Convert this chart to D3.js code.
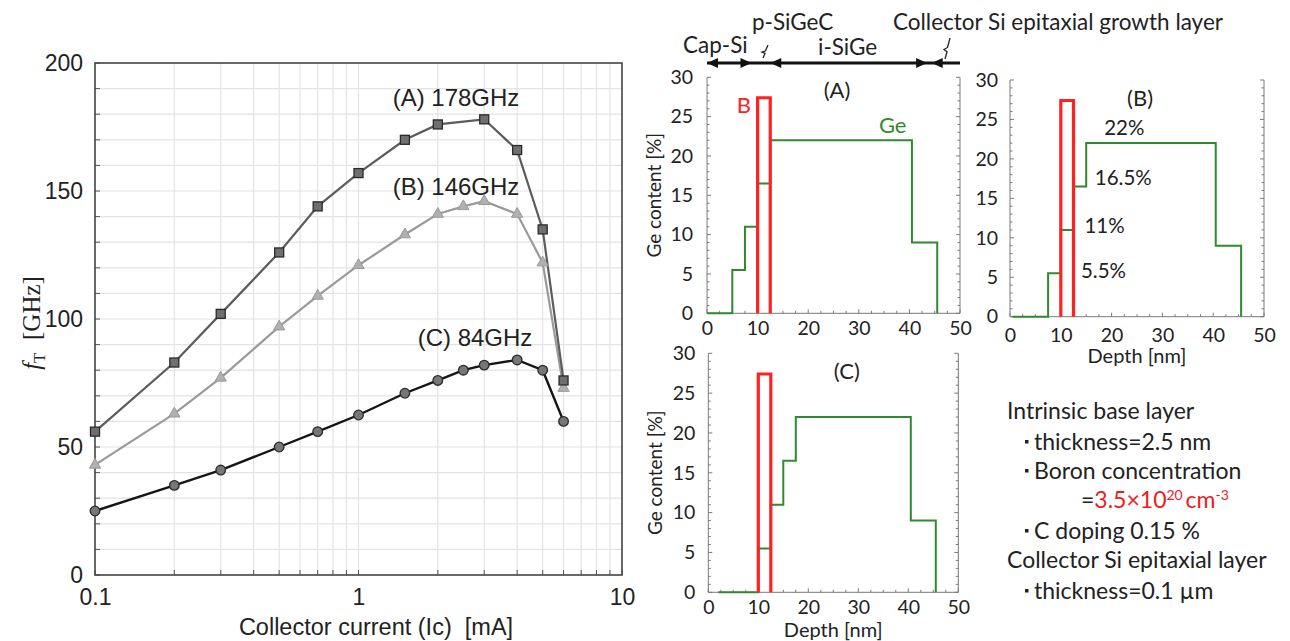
<!DOCTYPE html>
<html>
<head>
<meta charset="utf-8">
<script src="https://cdn.jsdelivr.net/npm/d3@7"></script>
<style>
  body { margin: 0; background: #fff; }
  svg { display: block; }
</style>
</head>
<body>
<svg id="fig" width="1290" height="641"></svg>
<script>
// ---------- fT versus collector current ----------
const currentA = [0.1, 0.2, 0.3, 0.5, 0.7, 1, 1.5, 2, 3, 4, 5, 6];
const ftA      = [56, 83, 102, 126, 144, 157, 170, 176, 178, 166, 135, 76];
const currentB = [0.1, 0.2, 0.3, 0.5, 0.7, 1, 1.5, 2, 2.5, 3, 4, 5, 6];
const ftB      = [43, 63, 77, 97, 109, 121, 133, 141, 144, 146, 141, 122, 73];
const currentC = [0.1, 0.2, 0.3, 0.5, 0.7, 1, 1.5, 2, 2.5, 3, 4, 5, 6];
const ftC      = [25, 35, 41, 50, 56, 62.5, 71, 76, 80, 82, 84, 80, 60];
const seriesLabels = ["(A) 178GHz", "(B) 146GHz", "(C) 84GHz"];
const ftTicks = [0, 50, 100, 150, 200];
const currentTicks = [0.1, 1, 10];

// ---------- Ge / B depth profiles ----------
const depthEdgesA = [0, 5, 7.5, 10, 12.5, 40.5, 45.5];
const depthEdgesB = [0.5, 7.5, 10, 12.5, 15, 40.5, 45.5];
const depthEdgesC = [2, 10, 12.5, 15, 17.5, 40.5, 45.5];
const geLevels    = [0, 5.5, 11, 16.5, 22, 9];
const boronStart = 10, boronEnd = 12.5, boronPeak = 27.4;
const depthTicks = [0, 10, 20, 30, 40, 50];
const geTicks = [0, 5, 10, 15, 20, 25, 30];
const stepLabelsB = ["22%", "16.5%", "11%", "5.5%"];

const svg = d3.select("#fig");
const SANS = "'Liberation Sans', Arial, sans-serif";
const SERIF = "'Liberation Serif', 'Times New Roman', serif";
const CAL = "Lato, 'Open Sans', sans-serif";

// ================= left chart =================
const L = { left: 95, right: 622, top: 63, bottom: 575 };
const x = d3.scaleLog().domain([0.1, 10]).range([L.left, L.right]);
const y = d3.scaleLinear().domain([0, 200]).range([L.bottom, L.top]);

const gl = svg.append("g");
const minorX = [];
[0.1, 1].forEach(d => { for (let k = 1; k <= 9; k++) minorX.push(d * k); });
minorX.push(10);
const gridY = d3.range(0, 201, 10);

// grid
gl.append("g").selectAll("line").data(minorX.filter(v => v > 0.1 && v < 10)).join("line")
  .attr("x1", d => x(d)).attr("x2", d => x(d))
  .attr("y1", L.top).attr("y2", L.bottom)
  .attr("stroke", "#e3e3e3").attr("stroke-width", 1.2);
gl.append("g").selectAll("line").data(gridY.filter(v => v > 0 && v < 200)).join("line")
  .attr("x1", L.left).attr("x2", L.right)
  .attr("y1", d => y(d)).attr("y2", d => y(d))
  .attr("stroke", "#e3e3e3").attr("stroke-width", 1.2);

// inward ticks
gl.append("g").selectAll("line").data(gridY).join("line")
  .attr("x1", L.left).attr("x2", L.left + 5)
  .attr("y1", d => y(d)).attr("y2", d => y(d))
  .attr("stroke", "#555").attr("stroke-width", 1);
gl.append("g").selectAll("line").data(minorX).join("line")
  .attr("x1", d => x(d)).attr("x2", d => x(d))
  .attr("y1", L.bottom).attr("y2", L.bottom - 5)
  .attr("stroke", "#555").attr("stroke-width", 1);

// frame
gl.append("rect").attr("x", L.left).attr("y", L.top)
  .attr("width", L.right - L.left).attr("height", L.bottom - L.top)
  .attr("fill", "none").attr("stroke", "#444").attr("stroke-width", 1.6);

// tick labels through D3 axes (domain/tick lines hidden)
const yAxis = d3.axisLeft(y).tickValues(ftTicks).tickSize(0).tickPadding(12);
const ya = gl.append("g").attr("transform", `translate(${L.left},0)`).call(yAxis);
ya.select(".domain").remove();
ya.selectAll("text").attr("font-family", SANS).attr("font-size", 23).attr("fill", "#222");

const xAxis = d3.axisBottom(x).tickValues(currentTicks).tickFormat(d3.format("")).tickSize(0).tickPadding(14);
const xa = gl.append("g").attr("transform", `translate(0,${L.bottom})`).call(xAxis);
xa.select(".domain").remove();
xa.selectAll("text").attr("font-family", SANS).attr("font-size", 23).attr("fill", "#222");

gl.append("text").attr("x", 376).attr("y", 635)
  .attr("text-anchor", "middle").attr("font-family", SANS).attr("font-size", 23.5).attr("fill", "#222")
  .attr("xml:space", "preserve")
  .text("Collector current (Ic)  [mA]");

const yt = gl.append("text").attr("transform", "translate(40,323) rotate(-90)")
  .attr("text-anchor", "middle").attr("font-family", SERIF).attr("font-size", 25).attr("fill", "#222");
yt.append("tspan").attr("font-style", "italic").text("f");
yt.append("tspan").attr("font-size", 17).attr("dy", 5).text("T");
yt.append("tspan").attr("dy", -5).text("\u00a0 [GHz]");

// series
const line = d3.line().x(d => x(d[0])).y(d => y(d[1]));
const dataA = currentA.map((c, i) => [c, ftA[i]]);
const dataB = currentB.map((c, i) => [c, ftB[i]]);
const dataC = currentC.map((c, i) => [c, ftC[i]]);

gl.append("path").datum(dataB).attr("d", line).attr("fill", "none").attr("stroke", "#9a9a9a").attr("stroke-width", 2.2);
gl.append("path").datum(dataA).attr("d", line).attr("fill", "none").attr("stroke", "#5c5c5c").attr("stroke-width", 2.2);
gl.append("path").datum(dataC).attr("d", line).attr("fill", "none").attr("stroke", "#151515").attr("stroke-width", 2.4);

const tri = d3.symbol().type(d3.symbolTriangle).size(55);
gl.append("g").selectAll("path").data(dataB).join("path")
  .attr("transform", d => `translate(${x(d[0])},${y(d[1])})`)
  .attr("d", tri).attr("fill", "#b0b0b0").attr("stroke", "#999").attr("stroke-width", 1);
gl.append("g").selectAll("rect").data(dataA).join("rect")
  .attr("x", d => x(d[0]) - 4.5).attr("y", d => y(d[1]) - 4.5)
  .attr("width", 9).attr("height", 9)
  .attr("fill", "#6f6f6f").attr("stroke", "#2a2a2a").attr("stroke-width", 1.3);
gl.append("g").selectAll("circle").data(dataC).join("circle")
  .attr("cx", d => x(d[0])).attr("cy", d => y(d[1])).attr("r", 4.8)
  .attr("fill", "#777").attr("stroke", "#2a2a2a").attr("stroke-width", 1.3);

// peak labels
const peakLabelPos = [[456, 106], [456, 195], [475, 346]];
gl.append("g").selectAll("text").data(seriesLabels).join("text")
  .attr("x", (d, i) => peakLabelPos[i][0]).attr("y", (d, i) => peakLabelPos[i][1])
  .attr("text-anchor", "middle").attr("font-family", SANS).attr("font-size", 24).attr("fill", "#222")
  .text(d => d);

// ================= depth profile panels =================
function panel(box, edges, opts) {
  const g = svg.append("g");
  const px = d3.scaleLinear().domain([0, 50]).range([box.left, box.right]);
  const py = d3.scaleLinear().domain([0, 30]).range([box.y0, box.y30]);
  const axisColor = "#7a7a7a";

  // axis lines (left, right, bottom)
  g.append("line").attr("x1", box.left).attr("x2", box.left).attr("y1", box.y0).attr("y2", box.y30)
    .attr("stroke", axisColor).attr("stroke-width", 1);
  g.append("line").attr("x1", box.right).attr("x2", box.right).attr("y1", box.y0).attr("y2", box.y30)
    .attr("stroke", axisColor).attr("stroke-width", 1);
  g.append("line").attr("x1", box.left).attr("x2", box.right).attr("y1", box.y0).attr("y2", box.y0)
    .attr("stroke", axisColor).attr("stroke-width", 1);

  // inward minor/major ticks
  const yMinor = d3.range(0, 31, 1);
  g.append("g").selectAll("line").data(yMinor).join("line")
    .attr("x1", box.left).attr("x2", d => box.left + (d % 5 === 0 ? 4 : 2.5))
    .attr("y1", d => py(d)).attr("y2", d => py(d)).attr("stroke", axisColor);
  g.append("g").selectAll("line").data(yMinor).join("line")
    .attr("x1", box.right).attr("x2", d => box.right - (d % 5 === 0 ? 4 : 2.5))
    .attr("y1", d => py(d)).attr("y2", d => py(d)).attr("stroke", axisColor);
  const xMinor = d3.range(0, 51, 2.5);
  g.append("g").selectAll("line").data(xMinor).join("line")
    .attr("x1", d => px(d)).attr("x2", d => px(d))
    .attr("y1", box.y0).attr("y2", d => box.y0 - (d % 10 === 0 ? 4 : 2.5)).attr("stroke", axisColor);

  // tick labels
  const ay = g.append("g").attr("transform", `translate(${box.left},0)`)
    .call(d3.axisLeft(py).tickValues(geTicks).tickSize(0).tickPadding(box.yPad));
  ay.select(".domain").remove();
  ay.selectAll("text").attr("font-family", CAL).attr("font-size", 19.5).attr("fill", "#222");
  const ax = g.append("g").attr("transform", `translate(0,${box.y0})`)
    .call(d3.axisBottom(px).tickValues(depthTicks).tickSize(0).tickPadding(box.xPad));
  ax.select(".domain").remove();
  ax.selectAll("text").attr("font-family", CAL).attr("font-size", 19.5).attr("fill", "#222");

  if (opts.yTitle) {
    g.append("text").attr("transform", `translate(${box.left - 46},${(box.y0 + box.y30) / 2}) rotate(-90)`)
      .attr("text-anchor", "middle").attr("font-family", CAL).attr("font-size", 19).attr("fill", "#222")
      .text("Ge content [%]");
  }
  if (opts.xTitle) {
    g.append("text").attr("x", (box.left + box.right) / 2).attr("y", opts.xTitleY)
      .attr("text-anchor", "middle").attr("font-family", CAL).attr("font-size", 20).attr("fill", "#222")
      .text("Depth [nm]");
  }

  // Ge step profile
  const pts = edges.map((e, i) => [e, i < geLevels.length ? geLevels[i] : 0]);
  g.append("path").datum(pts)
    .attr("d", d3.line().curve(d3.curveStepAfter).x(d => px(d[0])).y(d => py(d[1])))
    .attr("fill", "none").attr("stroke", "#2f8a2f").attr("stroke-width", 2);

  // boron box profile
  const bor = [[boronStart, 0], [boronStart, boronPeak], [boronEnd, boronPeak], [boronEnd, 0]];
  g.append("path").datum(bor)
    .attr("d", d3.line().x(d => px(d[0])).y(d => py(d[1])))
    .attr("fill", "none").attr("stroke", "#ff2222").attr("stroke-width", 3.2);

  g.append("text").attr("x", px(opts.tagAt[0])).attr("y", py(opts.tagAt[1]))
    .attr("text-anchor", "middle").attr("font-family", CAL).attr("font-size", 22).attr("fill", "#222")
    .text(opts.tag);
  return { g, px, py };
}

const pA = panel({ left: 707, right: 960, y0: 313.3, y30: 77.3, yPad: 14, xPad: 8 },
  depthEdgesA, { yTitle: true, tag: "(A)", tagAt: [25.7, 27.4] });
const pB = panel({ left: 1010, right: 1264, y0: 316.7, y30: 80, yPad: 12, xPad: 11 },
  depthEdgesB, { xTitle: true, xTitleY: 363, tag: "(B)", tagAt: [25.6, 26.7] });
const pC = panel({ left: 708.3, right: 958.3, y0: 592.3, y30: 353.3, yPad: 13, xPad: 8 },
  depthEdgesC, { yTitle: true, xTitle: true, xTitleY: 637, tag: "(C)", tagAt: [27.7, 26.8] });

// panel A labels
pA.g.append("text").attr("x", pA.px(7.3)).attr("y", pA.py(25.5))
  .attr("text-anchor", "middle").attr("font-family", CAL).attr("font-size", 22).attr("fill", "#ff2020").text("B");
pA.g.append("text").attr("x", pA.px(36.7)).attr("y", pA.py(22.9))
  .attr("text-anchor", "middle").attr("font-family", CAL).attr("font-size", 22).attr("fill", "#2f8a2f").text("Ge");

// panel B step values
const stepLabelPos = [[22.5, 23.0], [22.3, 16.7], [18.6, 10.6], [18.4, 4.9]];
pB.g.append("g").selectAll("text").data(stepLabelsB).join("text")
  .attr("x", (d, i) => pB.px(stepLabelPos[i][0])).attr("y", (d, i) => pB.py(stepLabelPos[i][1]))
  .attr("text-anchor", "middle").attr("font-family", CAL).attr("font-size", 20.5).attr("fill", "#222")
  .text(d => d);

// ---------- layer structure header ----------
const layerEdges = [0, 8.8, 12.5, 43.5, 44.4, 50];
const hy = 63;
const hx = pA.px;
const hdr = svg.append("g");
hdr.append("line").attr("x1", hx(0)).attr("x2", hx(50)).attr("y1", hy).attr("y2", hy)
  .attr("stroke", "#111").attr("stroke-width", 3);
function arrowHead(xTip, dir) {
  const len = 11, half = 5;
  hdr.append("path")
    .attr("d", `M${xTip},${hy} L${xTip - dir * len},${hy - half} L${xTip - dir * len},${hy + half} Z`)
    .attr("fill", "#111");
}
arrowHead(hx(layerEdges[0]), -1);
arrowHead(hx(layerEdges[1]), 1);
arrowHead(hx(layerEdges[2]), -1);
arrowHead(hx(layerEdges[3]), 1);
arrowHead(hx(layerEdges[4]), -1);

// zigzag leader marks pointing at the thin layers
function leader(x0, y0, h) {
  hdr.append("path")
    .attr("d", `M${x0},${y0} L${x0 + 2},${y0 - h * 0.35} L${x0 - 1},${y0 - h * 0.45} L${x0 + 2.5},${y0 - h * 0.55} L${x0 + 5},${y0 - h}`)
    .attr("fill", "none").attr("stroke", "#222").attr("stroke-width", 1.3);
}
leader(763, 58, 13);
leader(945, 59, 21);

const hdrText = [
  { t: "Cap-Si", x: 683, y: 53 },
  { t: "p-SiGeC", x: 752, y: 30 },
  { t: "i-SiGe", x: 818, y: 55 },
  { t: "Collector Si epitaxial growth layer", x: 893, y: 30 }
];
hdr.selectAll("text").data(hdrText).join("text")
  .attr("x", d => d.x).attr("y", d => d.y)
  .attr("font-family", CAL).attr("font-size", 22.5).attr("fill", "#222")
  .text(d => d.t);

// ---------- process notes ----------
const notes = svg.append("g").attr("font-family", CAL).attr("font-size", 23).attr("fill", "#222");
notes.append("text").attr("x", 1007).attr("y", 419).text("Intrinsic base layer");
const bullet = (yy, txt) => {
  notes.append("rect").attr("x", 1025).attr("y", yy - 10).attr("width", 3.5).attr("height", 3.5).attr("fill", "#222");
  notes.append("text").attr("x", 1034).attr("y", yy).text(txt);
};
bullet(450, "thickness=2.5 nm");
bullet(479, "Boron concentration");
const conc = notes.append("text").attr("x", 1081).attr("y", 508);
conc.append("tspan").text("=");
conc.append("tspan").attr("fill", "#ee1c1c").text("3.5\u00d710");
conc.append("tspan").attr("fill", "#ee1c1c").attr("font-size", 14).attr("dy", -8).text("20");
conc.append("tspan").attr("fill", "#ee1c1c").attr("dy", 8).text("\u2009cm");
conc.append("tspan").attr("fill", "#ee1c1c").attr("font-size", 14).attr("dy", -8).text("-3");
bullet(539, "C doping 0.15 %");
notes.append("text").attr("x", 1007).attr("y", 568).text("Collector Si epitaxial layer");
bullet(599, "thickness=0.1 \u00b5m");
</script>
</body>
</html>
